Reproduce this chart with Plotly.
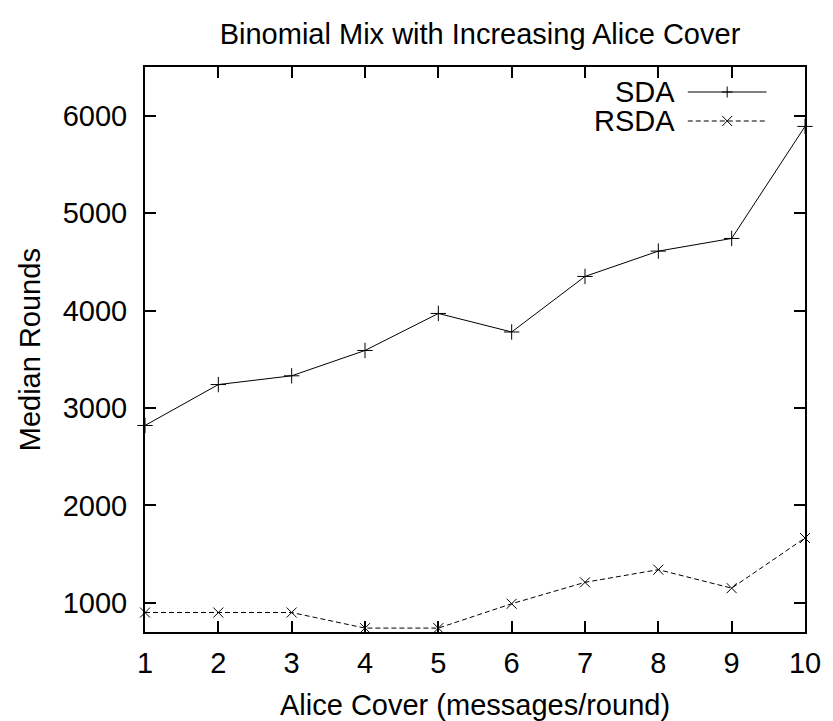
import plotly.graph_objects as go

# ---- data ----
x_vals = [1, 2, 3, 4, 5, 6, 7, 8, 9, 10]
sda = [2820, 3240, 3330, 3590, 3970, 3780, 4350, 4610, 4740, 5890]
rsda = [900, 900, 900, 740, 740, 990, 1210, 1340, 1150, 1665]
y_ticks = [1000, 2000, 3000, 4000, 5000, 6000]
series_names = ["SDA", "RSDA"]

W, H = 833, 721
L, R, T, B = 145, 18, 67, 89
PW, PH = W - L - R, H - T - B
FONT = "Liberation Sans, Arial, Helvetica, sans-serif"
FS = 29


def px2paper(px, py):
    return (px - L) / PW, (H - B - py) / PH


fig = go.Figure()
fig.add_trace(go.Scatter(
    x=x_vals, y=sda, name=series_names[0], mode="lines+markers",
    line=dict(color="black", width=1),
    marker=dict(symbol="cross-thin-open", size=11, line=dict(color="black", width=1)),
    cliponaxis=False, showlegend=False))
fig.add_trace(go.Scatter(
    x=x_vals, y=rsda, name=series_names[1], mode="lines+markers",
    line=dict(color="black", width=1, dash="5px,3px"),
    marker=dict(symbol="x-thin-open", size=10, line=dict(color="black", width=1)),
    cliponaxis=False, showlegend=False))

# manual gnuplot-style key (text right, sample line left-to-right)
shapes = []
annotations = []
key_rows = [(series_names[0], 92, "solid", "plus"), (series_names[1], 121, "dash", "x")]
for name, py, dash, mk in key_rows:
    x0, y0 = px2paper(696, py)
    x1, _ = px2paper(776, py)
    tx, _ = px2paper(685, py)
    annotations.append(dict(text=name, x=tx, y=y0, xref="paper", yref="paper",
                            xanchor="right", yanchor="middle", showarrow=False,
                            font=dict(family=FONT, size=FS, color="black")))
    shapes.append(dict(type="line", xref="paper", yref="paper", x0=x0, x1=x1, y0=y0, y1=y0,
                       line=dict(color="black", width=1, dash="solid" if dash == "solid" else "5px,3px")))
    cx, cy = px2paper(736, py)
    dx, dy = 5.5 / PW, 5.5 / PH
    if mk == "plus":
        shapes.append(dict(type="line", xref="paper", yref="paper", x0=cx - dx, x1=cx + dx, y0=cy, y1=cy,
                           line=dict(color="black", width=1)))
        shapes.append(dict(type="line", xref="paper", yref="paper", x0=cx, x1=cx, y0=cy - dy, y1=cy + dy,
                           line=dict(color="black", width=1)))
    else:
        ddx, ddy = 5 / PW, 5 / PH
        shapes.append(dict(type="line", xref="paper", yref="paper", x0=cx - ddx, x1=cx + ddx, y0=cy - ddy, y1=cy + ddy,
                           line=dict(color="black", width=1)))
        shapes.append(dict(type="line", xref="paper", yref="paper", x0=cx - ddx, x1=cx + ddx, y0=cy + ddy, y1=cy - ddy,
                           line=dict(color="black", width=1)))

# axis titles
_, xt_y = px2paper(480, 705)
annotations.append(dict(text="Alice Cover (messages/round)", x=0.5, y=xt_y, xref="paper", yref="paper",
                        xanchor="center", yanchor="middle", showarrow=False,
                        font=dict(family=FONT, size=FS, color="black")))
yt_x, _ = px2paper(28, 350)
annotations.append(dict(text="Median Rounds", x=yt_x, y=0.5, xref="paper", yref="paper",
                        xanchor="center", yanchor="middle", textangle=-90, showarrow=False,
                        font=dict(family=FONT, size=FS, color="black")))

axis_common = dict(showline=True, linecolor="black", linewidth=2, mirror="ticks",
                   ticks="inside", ticklen=11, tickwidth=1.5, tickcolor="black",
                   showgrid=False, zeroline=False,
                   tickfont=dict(family=FONT, size=FS, color="black"))

fig.update_layout(
    width=W, height=H,
    margin=dict(l=L, r=R, t=T, b=B),
    paper_bgcolor="white", plot_bgcolor="white",
    title=dict(text="Binomial Mix with Increasing Alice Cover", x=(L + PW / 2) / W, xanchor="center",
               y=1 - 34 / H, yanchor="middle", font=dict(family=FONT, size=FS, color="black")),
    xaxis=dict(range=[1, 10], tickvals=x_vals, ticklabelstandoff=4, **axis_common),
    yaxis=dict(range=[700, 6500], tickvals=y_ticks, ticklabelstandoff=10, **axis_common),
    shapes=shapes, annotations=annotations,
    showlegend=False,
)

fig.write_html("out.html")
